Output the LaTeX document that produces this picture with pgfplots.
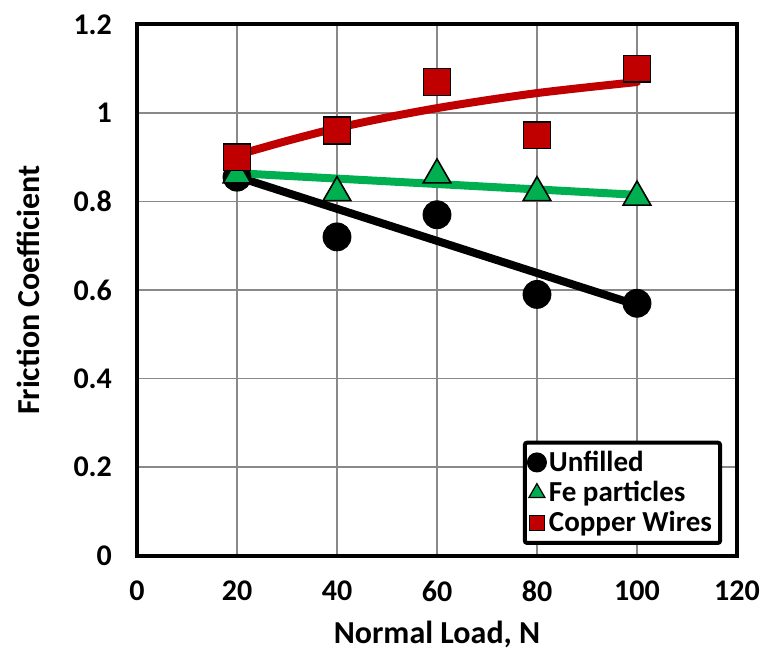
\documentclass[border=0pt]{standalone}
\usepackage{fontspec}
\setmainfont{Carlito}
\usepackage{pgfplots}
\pgfplotsset{compat=1.18}
\definecolor{cured}{RGB}{192,0,0}
\definecolor{cugreen}{RGB}{0,176,80}
\definecolor{gridgray}{RGB}{137,137,137}
\begin{document}
\begin{tikzpicture}
\begin{axis}[
  at={(0,0)}, anchor=south west,
  width=300pt, height=265.5pt, scale only axis,
  xmin=0, xmax=120, ymin=0, ymax=1.2,
  xtick={0,20,...,120}, ytick={0,0.2,...,1.2},
  major tick length=0pt,
  grid=major,
  major grid style={draw=gridgray, line width=0.6pt},
  axis line style={draw=black, line width=2pt},
  /pgf/number format/assume math mode=true,
  tick label style={font=\fontsize{15}{18}\selectfont\bfseries},
  x tick label style={yshift=-9pt},
  y tick label style={xshift=-9pt},
  xlabel={Normal Load, N},
  ylabel={Friction Coefficient},
  label style={font=\fontsize{16}{19}\selectfont\bfseries},
  xlabel style={yshift=-3pt},
  ylabel style={yshift=10pt},
  legend cell align=left,
  legend style={at={(0.975,0.02)}, anchor=south east,
    draw=black, line width=2pt, rounded corners=1pt,
    font=\fontsize{14.5}{17}\selectfont\bfseries,
    row sep=-0.5pt, inner sep=2pt},
  clip=false,
]
% trend lines
\addplot[black, line width=4pt, line cap=round, forget plot]
  coordinates {(20,0.856)(100,0.566)};
\addplot[cugreen, line width=4pt, line cap=round, forget plot]
  coordinates {(20,0.864)(100,0.815)};
\addplot[cured, line width=4pt, line cap=round, line join=round, smooth,
  tension=0.5, forget plot]
  coordinates {(20,0.905)(30,0.937)(40,0.966)(50,0.990)(60,1.011)
               (70,1.029)(80,1.045)(90,1.058)(100,1.070)};
% data
\addplot[only marks, mark=*, mark size=7pt, draw=black, fill=black, forget plot]
  coordinates {(20,0.855)(40,0.72)(60,0.77)(80,0.59)(100,0.57)};
\addplot[only marks, mark=triangle*, mark size=8pt, draw=black, line width=0.8pt,
  fill=cugreen, forget plot]
  coordinates {(20,0.86)(40,0.82)(60,0.86)(80,0.82)(100,0.81)};
\addplot[only marks, mark=square*, mark size=6.7pt, draw=black, line width=0.8pt,
  fill=cured, forget plot]
  coordinates {(20,0.90)(40,0.96)(60,1.07)(80,0.95)(100,1.10)};
% legend entries
\addlegendimage{only marks, mark=*, mark size=4pt, draw=black, fill=black}
\addlegendentry{Unfilled}
\addlegendimage{only marks, mark=triangle*, mark size=4.6pt, draw=black,
  line width=0.6pt, fill=cugreen}
\addlegendentry{Fe particles}
\addlegendimage{only marks, mark=square*, mark size=3.8pt, draw=black,
  line width=0.6pt, fill=cured}
\addlegendentry{Copper Wires}
\end{axis}
\pgfresetboundingbox
\path[use as bounding box] (-68.5pt,-48.75pt) rectangle (311.5pt,277.75pt);
\end{tikzpicture}
\end{document}
